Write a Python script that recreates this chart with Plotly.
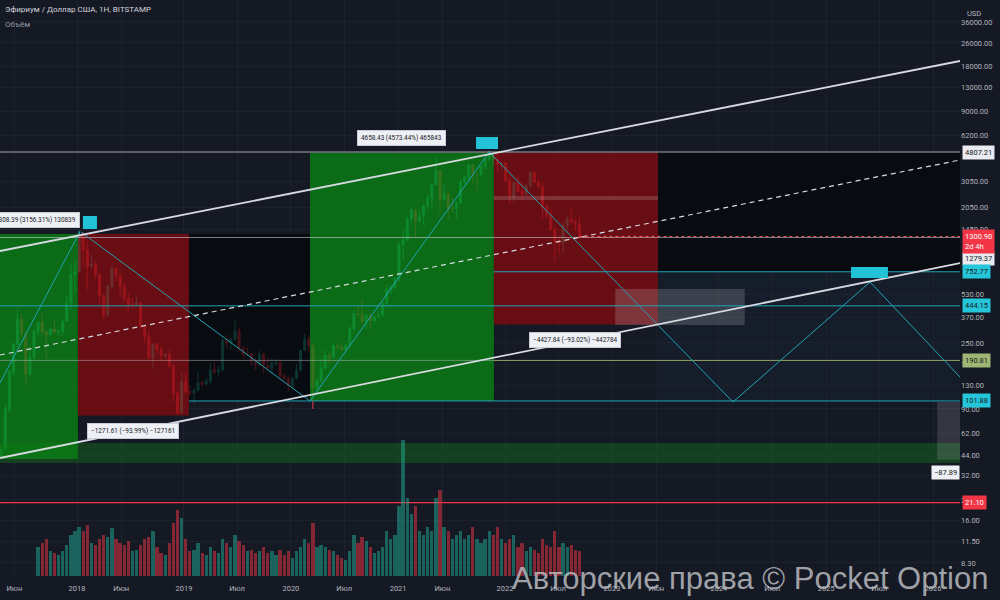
import numpy as np
import pandas as pd
import plotly.graph_objects as go

# ---------------- data ----------------
period_mid = pd.date_range("2017-04-17", periods=142, freq="14D")   # two-week candles
first_open = 43.0
close = [48, 90, 160, 245, 360, 290, 155, 200, 300, 345,
         295, 285, 310, 295, 298, 350, 465, 720, 750, 1350,
         1060, 820, 840, 720, 520, 385, 600, 790, 710, 600,
         500, 450, 450, 465, 320, 275, 200, 245, 225, 205,
         210, 175, 115, 85, 138, 118, 115, 120, 135, 132,
         138, 165, 160, 165, 260, 250, 265, 300, 230, 210,
         210, 190, 180, 210, 175, 170, 182, 185, 150, 145,
         130, 145, 165, 223, 265, 240, 125, 140, 170, 205,
         200, 240, 235, 225, 240, 310, 395, 390, 350, 385,
         355, 375, 385, 460, 575, 590, 680, 1150, 1230, 1700,
         1950, 1650, 1790, 2080, 2350, 2900, 3600, 2300, 2500, 2000,
         2000, 2200, 3000, 3250, 3920, 3400, 3400, 3850, 4300, 4550,
         4300, 4000, 4050, 3080, 2400, 3000, 2620, 2500, 2850, 3500,
         3000, 2800, 2050, 1800, 1450, 1200, 1170, 1550, 1700, 1620,
         1570, 1300.9]
high = [50, 97, 165, 250, 420, 390, 300, 240, 310, 350,
        395, 305, 310, 350, 310, 355, 520, 860, 880, 1420,
        1380, 1200, 970, 880, 730, 530, 620, 830, 800, 720,
        630, 545, 500, 510, 470, 330, 300, 250, 250, 235,
        215, 225, 180, 120, 158, 160, 130, 125, 160, 140,
        145, 185, 185, 175, 270, 285, 270, 360, 320, 240,
        235, 215, 195, 225, 215, 200, 200, 195, 190, 155,
        150, 147, 180, 225, 290, 280, 245, 145, 195, 225,
        215, 245, 250, 245, 245, 325, 415, 445, 490, 390,
        395, 380, 420, 480, 620, 620, 690, 1200, 1470, 1770,
        2040, 1990, 1950, 2140, 2500, 2950, 4380, 3650, 2900, 2600,
        2400, 2250, 3180, 3340, 4000, 4000, 3450, 3900, 4380, 4870,
        4600, 4780, 4100, 4100, 3420, 3050, 3300, 3050, 2950, 3580,
        3550, 3190, 3000, 2150, 2000, 1500, 1280, 1650, 1800, 2030,
        1720, 1790]
low = [42, 48, 85, 150, 240, 270, 130, 150, 190, 280,
       280, 195, 280, 290, 280, 280, 350, 415, 560, 750,
       800, 570, 800, 670, 450, 360, 380, 580, 640, 510,
       470, 410, 425, 440, 310, 250, 195, 168, 210, 190,
       195, 170, 100, 82, 84, 115, 110, 100, 118, 125,
       130, 132, 155, 150, 160, 230, 225, 260, 220, 195,
       205, 175, 165, 175, 155, 165, 155, 175, 140, 140,
       118, 125, 142, 160, 220, 215, 90, 120, 135, 165,
       180, 195, 225, 220, 220, 230, 300, 370, 330, 310,
       310, 335, 370, 370, 440, 530, 560, 640, 900, 1220,
       1560, 1290, 1600, 1550, 1950, 2000, 2870, 1900, 2250, 1700,
       1900, 1720, 2150, 2950, 3050, 3000, 2650, 3300, 3700, 4150,
       3950, 3500, 3650, 3050, 2150, 2160, 2600, 2300, 2450, 2700,
       2970, 2750, 1700, 1715, 1420, 880, 1000, 1000, 1360, 1600,
       1420, 1280]
volume = [0, 0, 0, 0, 0, 0, 0, 0, 0, 35,
          40, 45, 30, 28, 25, 30, 38, 50, 55, 60,
          55, 62, 40, 38, 45, 50, 48, 58, 45, 40,
          38, 42, 30, 32, 38, 45, 48, 55, 35, 28,
          25, 40, 65, 80, 70, 45, 30, 32, 40, 28,
          25, 35, 30, 28, 45, 40, 35, 50, 42, 38,
          30, 32, 28, 30, 35, 28, 30, 25, 32, 25,
          30, 22, 30, 35, 45, 40, 65, 35, 38, 35,
          32, 30, 25, 22, 20, 30, 50, 40, 48, 42,
          35, 28, 30, 35, 55, 45, 50, 85, 165, 95,
          75, 85, 55, 50, 60, 55, 95, 105, 60, 55,
          45, 50, 55, 45, 50, 60, 45, 40, 45, 55,
          50, 60, 45, 40, 45, 50, 35, 40, 30, 35,
          32, 28, 45, 38, 35, 55, 35, 40, 35, 38,
          32, 30]
opens = [first_open] + close[:-1]

# drawing tools (dates / prices)
X_LEFT, X_RIGHT = "2017-03-01", "2026-04-20"
channel_upper = (["2017-04-13", "2026-04-03"], [1038, 19680])
channel_lower = (["2017-04-13", "2026-04-03"], [42.1, 862])
channel_mid = (["2017-04-13", "2026-04-03"], [207.4, 4249])
zigzag_dates = ["2017-04-13", "2018-01-11"]
zigzag_prices = [134.5, 1400]
trend_b = (["2018-01-15", "2020-03-06"], [1390, 101.86])
trend_c = (["2020-03-06", "2021-11-08"], [101.86, 4800])
trend_d = (["2021-11-08", "2024-02-18", "2025-05-31", "2026-04-03"], [4800, 100.2, 642, 147.5])

range_boxes = [  # x0, x1, low, high, kind
    ("2017-03-01", "2018-01-04", 41.45, 1349.84, "up"),
    ("2018-01-04", "2019-01-18", 81.3, 1352.9, "down"),
    ("2020-03-06", "2021-11-24", 101.86, 4760.3, "up"),
    ("2021-11-24", "2023-06-07", 332.4, 4760.3, "down"),
]
range_labels = [
    ("2018-01-11", 1678, "1308.39 (3156.31%) 130839", "right"),
    ("2021-01-14", 5972, "4658.43 (4573.44%) 465843", "center"),
    ("2018-07-11", 63.9, "−1271.61 (−93.99%) −127161", "center"),
    ("2022-08-28", 261.7, "−4427.84 (−93.02%) −442784", "center"),
]
levels = {"4807.21": 4807.21, "1279.37": 1279.37, "752.77": 752.77, "444.15": 444.15,
          "190.81": 190.81, "101.88": 101.88, "21.10": 21.10}
last_price = 1300.90

y_tickvals = [36000, 26000, 18000, 13000, 9000, 6200, 3050, 2050, 1450, 530, 370,
              250, 180, 130, 90, 62, 44, 32, 22, 16, 11.5, 8.3]
x_tickvals = ["2017-06-01", "2018-01-01", "2018-06-01", "2019-01-01", "2019-07-01",
              "2020-01-01", "2020-07-01", "2021-01-01", "2021-06-01", "2022-01-01",
              "2022-07-01", "2023-01-01", "2023-06-01", "2024-01-01", "2024-07-01",
              "2025-01-01", "2025-07-01", "2026-01-01"]
x_ticktext = ["Июн", "2018", "Июн", "2019", "Июл", "2020", "Июл", "2021", "Июн", "2022",
              "Июл", "2023", "Июн", "2024", "Июл", "2025", "Июл", "2026"]

# ---------------- styling ----------------
BG = "#151924"
UP, DOWN = "#22ab94", "#f23645"
TEAL = "#21a3b3"
TXT = "#b2b5be"
FONT = "Roboto, Arial, sans-serif"

fig = go.Figure()


def rect(x0, x1, y0, y1, color):
    fig.add_trace(go.Scatter(x=[x0, x1, x1, x0, x0], y=[y0, y0, y1, y1, y0], mode="lines",
                             fill="toself", fillcolor=color, line=dict(width=0, color=color),
                             hoverinfo="skip"))


def seg(xs, ys, color, width=1.0, dash=None):
    fig.add_trace(go.Scatter(x=xs, y=ys, mode="lines", hoverinfo="skip",
                             line=dict(color=color, width=width, dash=dash)))


# background zones
rect("2019-01-18", "2020-03-06", levels["101.88"], 1352.9, "rgba(4,5,8,0.72)")
rect("2023-06-07", X_RIGHT, levels["752.77"], levels["4807.21"], "rgba(4,5,8,0.72)")
rect("2023-06-07", X_RIGHT, levels["101.88"], levels["752.77"], "rgba(25,40,55,0.3)")
rect(X_LEFT, X_RIGHT, 39.0, 53.1, "rgba(20,110,30,0.45)")

# price-range boxes
for x0, x1, lo, hi, kind in range_boxes:
    rect(x0, x1, lo, hi, "rgba(10,128,20,0.8)" if kind == "up" else "rgba(128,10,14,0.78)")
rect("2023-01-12", "2024-03-29", 330, 577, "rgba(210,210,215,0.2)")
rect("2026-01-15", X_RIGHT, 41, 100.4, "rgba(210,210,215,0.16)")
rect("2021-11-24", "2023-06-07", 2287, 2433, "rgba(230,230,235,0.18)")

# horizontal levels
seg([X_LEFT, X_RIGHT], [levels["4807.21"]] * 2, "rgba(215,217,225,0.75)")
seg([X_LEFT, X_RIGHT], [levels["1279.37"]] * 2, "rgba(215,217,225,0.55)")
seg(["2021-11-24", X_RIGHT], [levels["752.77"]] * 2, TEAL)
seg([X_LEFT, X_RIGHT], [levels["444.15"]] * 2, TEAL)
seg([X_LEFT, "2021-11-24"], [levels["190.81"]] * 2, "rgba(205,200,205,0.45)")
seg(["2021-11-24", X_RIGHT], [levels["190.81"]] * 2, "#8fa56a")
seg(["2019-01-18", X_RIGHT], [levels["101.88"]] * 2, TEAL)

# trend / zigzag lines
seg(zigzag_dates, zigzag_prices, TEAL)
seg(*trend_b, TEAL)
seg(*trend_c, TEAL)
seg(*trend_d, TEAL)

# candles
fig.add_trace(go.Candlestick(
    x=period_mid, open=opens, high=high, low=low, close=close,
    increasing=dict(line=dict(color=UP, width=1), fillcolor=UP),
    decreasing=dict(line=dict(color=DOWN, width=1), fillcolor=DOWN),
    whiskerwidth=0, hoverinfo="skip"))

# channel
seg(*channel_upper, "#d8dae2", 1.8)
seg(*channel_lower, "#d8dae2", 1.8)
seg(*channel_mid, "#d8dae2", 1.2, "5px,4px")

seg(["2022-09-12", X_RIGHT], [last_price] * 2, "#f7525f", 1, "dot")
seg([X_LEFT, X_RIGHT], [levels["21.10"]] * 2, "#f23645", 1.2)

# cyan markers
rect("2018-01-21", "2018-03-10", 1459, 1785, "#22c3d6")
rect("2021-09-24", "2021-12-08", 5036, 6066, "#22c3d6")
rect("2025-03-27", "2025-07-31", 683, 810, "#22c3d6")

# volume
vol_colors = ["rgba(34,171,148,0.5)" if c >= o else "rgba(242,54,69,0.5)" for o, c in zip(opens, close)]
fig.add_trace(go.Bar(x=period_mid, y=volume, yaxis="y2", marker=dict(color=vol_colors, line=dict(width=0)),
                     width=14 * 86400000 * 0.8, hoverinfo="skip"))

# ---------------- annotations ----------------
ann = []
for xd, price, text, anchor in range_labels:
    ann.append(dict(x=xd, y=np.log10(price), xref="x", yref="y", text=text, showarrow=False,
                    xanchor=anchor, yanchor="middle", bgcolor="#eef0f5", bordercolor="#c9ccd4",
                    borderwidth=1, borderpad=3, font=dict(family=FONT, size=6.4, color="#131722")))

right_labels = [
    ("4807.21", "#e9ebf0", "#131722", 0, "middle"),
    ("1279.37", "#e9ebf0", "#131722", -21, "middle"),
    ("752.77", "#26c6da", "#131722", 0, "middle"),
    ("444.15", "#26c6da", "#131722", 0, "middle"),
    ("190.81", "#9fb574", "#131722", 0, "middle"),
    ("101.88", "#26c6da", "#131722", 0, "middle"),
    ("21.10", "#f23645", "#ffffff", 0, "middle"),
]
for key, bg, fg, ysh, ya in right_labels:
    ann.append(dict(x=1.0, y=np.log10(levels[key]), xref="paper", yref="y", text=key, showarrow=False,
                    xanchor="left", yanchor=ya, xshift=2, yshift=ysh, bgcolor=bg, borderpad=2,
                    font=dict(family=FONT, size=7.5, color=fg)))
ann.append(dict(x=1.0, y=np.log10(last_price), xref="paper", yref="y", text="1300.90<br>2d 4h",
                showarrow=False, xanchor="left", yanchor="top", xshift=2, yshift=7, bgcolor="#f23645",
                borderpad=2, align="left", font=dict(family=FONT, size=7.5, color="#ffffff")))
ann.append(dict(x=1.0, y=np.log10(33.9), xref="paper", yref="y", text="−87.89", showarrow=False,
                xanchor="right", yanchor="middle", bgcolor="#eef0f5", borderpad=2,
                font=dict(family=FONT, size=7.5, color="#131722")))
ann.append(dict(x=1.0, y=0.987, xref="paper", yref="paper", text="USD", showarrow=False,
                xanchor="left", xshift=5, font=dict(family=FONT, size=7.5, color=TXT)))
ann.append(dict(x=0.003, y=0.983, xref="paper", yref="paper", text="Эфириум / Доллар США, 1Н, BITSTAMP",
                showarrow=False, xanchor="left", yanchor="middle", font=dict(family=FONT, size=8, color="#d1d4dc")))
ann.append(dict(x=0.003, y=0.958, xref="paper", yref="paper", text="Объём",
                showarrow=False, xanchor="left", yanchor="middle", font=dict(family=FONT, size=8, color="#9598a1")))
ann.append(dict(x=0.781, y=-0.005, xref="paper", yref="paper", text="Авторские права © Pocket Option",
                showarrow=False, xanchor="center", yanchor="middle",
                font=dict(family="Liberation Sans, Arial, sans-serif", size=31, color="rgba(185,187,192,0.85)")))

fig.update_layout(
    width=1000, height=600,
    margin=dict(l=0, r=40, t=0, b=24),
    paper_bgcolor=BG, plot_bgcolor=BG,
    showlegend=False, hovermode=False,
    annotations=ann,
    xaxis=dict(type="date", range=["2017-04-13", "2026-04-03"], rangeslider=dict(visible=False),
               tickvals=x_tickvals, ticktext=x_ticktext, showgrid=True, gridcolor="#1d212c",
               zeroline=False, showline=False, ticks="", automargin=False, ticklabelstandoff=6,
               tickfont=dict(family=FONT, size=7.5, color=TXT)),
    yaxis=dict(type="log", range=[0.831, 4.704], side="right", tickvals=y_tickvals,
               ticktext=[f"{v:.2f}" for v in y_tickvals], showgrid=True, gridcolor="#1d212c",
               zeroline=False, showline=False, ticks="", automargin=False,
               tickfont=dict(family=FONT, size=7.5, color=TXT)),
    yaxis2=dict(overlaying="y", range=[0, 700], visible=False, showgrid=False),
    bargap=0,
)

fig.write_html("out.html", config={"displayModeBar": False},
               post_script="document.body.style.margin='0';document.body.style.overflow='hidden';")
